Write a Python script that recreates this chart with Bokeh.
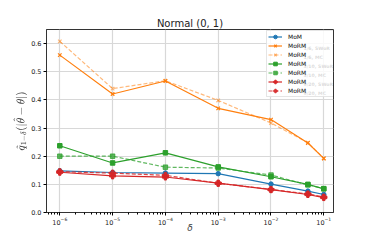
from bokeh.plotting import figure
from bokeh.models import (Range1d, FixedTicker, PrintfTickFormatter, Legend, LegendItem,
                          Label, LogTicker)
from bokeh.embed import file_html
from bokeh.resources import INLINE

delta = [1e-6, 1e-5, 1e-4, 1e-3, 1e-2, 5e-2, 1e-1]

mom = [0.148, 0.142, 0.140, 0.138, 0.101, 0.076, 0.064]
morm16_swor = [0.559, 0.421, 0.467, 0.370, 0.330, 0.247, 0.192]
morm16_mc = [0.608, 0.440, 0.468, 0.398, 0.318, 0.248, 0.192]
morm310_swor = [0.237, 0.176, 0.212, 0.162, 0.127, 0.100, 0.084]
morm310_mc = [0.200, 0.200, 0.161, 0.158, 0.133, 0.098, 0.085]
morm920_swor = [0.143, 0.130, 0.126, 0.104, 0.081, 0.064, 0.053]
morm920_mc = [0.145, 0.140, 0.132, 0.104, 0.082, 0.066, 0.055]

labels_main = ["MoM", "MoRM", "MoRM", "MoRM", "MoRM", "MoRM", "MoRM"]
labels_sub = ["", "1/6, SWoR", "1/6, MC", "3/10, SWoR", "3/10, MC", "9/20, SWoR", "9/20, MC"]

FONT = "DejaVu Sans"

p = figure(x_axis_type="log", output_backend="svg", toolbar_location=None,
           frame_width=287, frame_height=183,
           min_border_left=46, min_border_right=41, min_border_top=29, min_border_bottom=31,
           x_range=Range1d(10 ** -6.252, 10 ** -0.816), y_range=Range1d(0, 0.65),
           title="Normal (0, 1)")
p.title.align = "center"
p.title.text_font = FONT
p.title.text_font_size = "10px"
p.title.text_font_style = "normal"
p.title.text_color = "#222222"
p.title.offset = 0
p.title.standoff = 2

p.outline_line_color = "#333333"
p.outline_line_width = 1
for ax in (p.xaxis[0], p.yaxis[0]):
    ax.axis_line_color = "#333333"
    ax.major_label_text_font = FONT
    ax.major_label_text_font_size = "6.5px"
    ax.major_label_text_color = "#222222"
    ax.major_tick_out = 3
    ax.major_tick_in = 0
    ax.major_label_standoff = 2
    ax.axis_label_text_font = FONT
    ax.axis_label_text_font_size = "9px"
    ax.axis_label_text_font_style = "italic"
    ax.axis_label_standoff = 1
p.xaxis[0].axis_label_standoff = -5
p.xaxis[0].major_label_standoff = 1
p.xaxis[0].ticker = LogTicker(desired_num_ticks=6, num_minor_ticks=10)
p.xaxis[0].minor_tick_out = 2
p.xaxis[0].minor_tick_in = 0
p.yaxis[0].ticker = FixedTicker(ticks=[0, 0.1, 0.2, 0.3, 0.4, 0.5, 0.6])
p.yaxis[0].formatter = PrintfTickFormatter(format="%.1f")
p.yaxis[0].minor_tick_line_color = None
p.xaxis[0].axis_label = "δ"
p.yaxis[0].axis_label = r"$$\hat{q}_{1-\delta}(|\hat{\theta}-\theta|)$$"
p.yaxis[0].axis_label_text_font_style = "normal"

p.xgrid.grid_line_color = "#d8d8d8"
p.ygrid.grid_line_color = "#d8d8d8"
p.xgrid.grid_line_width = 1.2
p.ygrid.grid_line_width = 1.2
p.xgrid.ticker = LogTicker(desired_num_ticks=6, num_minor_ticks=0)

series = [
    (mom, "#1f77b4", "solid", "circle", 1.0),
    (morm16_swor, "#ff7f0e", "solid", "x", 1.0),
    (morm16_mc, "#ff7f0e", "dashed", "x", 0.55),
    (morm310_swor, "#2ca02c", "solid", "square", 1.0),
    (morm310_mc, "#2ca02c", "dashed", "square", 0.75),
    (morm920_swor, "#d62728", "solid", "plus", 1.0),
    (morm920_mc, "#d62728", "dashed", "plus", 0.85),
]

items = []
for (vals, col, dash, mk, a), lab in zip(series, labels_main):
    dd = "4 2" if dash == "dashed" else "solid"
    l = p.line(delta, vals, line_color=col, line_width=1.2, line_dash=dd, line_alpha=a)
    if mk == "x":
        s = p.scatter(delta, vals, marker="x", size=5, line_color=col, line_width=1.2, line_alpha=a)
    elif mk == "plus":
        s = p.scatter(delta, vals, marker="plus", size=6, fill_color=col, line_color=col,
                      fill_alpha=a, line_alpha=a)
    else:
        s = p.scatter(delta, vals, marker=mk, size=4.5, fill_color=col, line_color=col,
                      fill_alpha=a, line_alpha=a)
    items.append(LegendItem(label=lab, renderers=[l, s]))

leg = Legend(items=items, location=(220, 115), margin=0, padding=1, spacing=0,
             label_height=9, glyph_height=9, glyph_width=14, label_standoff=6, label_width=45,
             label_text_font=FONT, label_text_font_size="6px", label_text_color="#111111",
             border_line_color="#cccccc", border_line_width=1,
             background_fill_alpha=0.85)
p.add_layout(leg, "center")

# subscripts for legend labels (frame-relative screen units), drawn above the legend box
for i, sub in enumerate(labels_sub):
    if not sub:
        continue
    p.add_layout(Label(x=257, y=173 - 9 * i, x_units="screen", level="overlay",
                       y_units="screen", text=sub, text_font=FONT, text_font_size="4.6px",
                       text_font_style="bold",
                       text_color="#000000", text_baseline="middle"))

open("out.html", "w").write(file_html(p, INLINE))
